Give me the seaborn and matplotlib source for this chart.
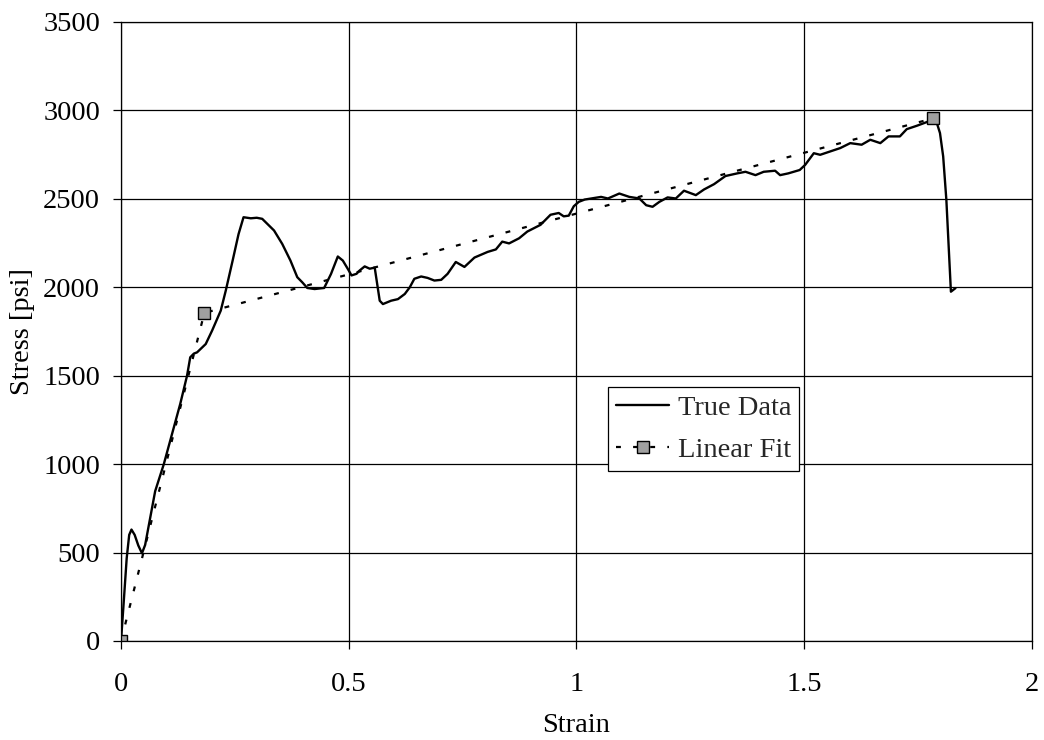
"""Stress-strain curve with linear fit."""

import matplotlib

matplotlib.use("Agg")
import matplotlib.pyplot as plt
import pandas as pd
import seaborn as sns

# true data
strain = [
    0, 0.005, 0.0125, 0.018, 0.023, 0.030, 0.038, 0.046, 0.053, 0.064,
    0.075, 0.094, 0.112, 0.130, 0.145, 0.152, 0.160, 0.167, 0.186, 0.200,
    0.219, 0.230, 0.245, 0.258, 0.269, 0.285, 0.298, 0.310, 0.336, 0.354,
    0.372, 0.387, 0.398, 0.409, 0.425, 0.446, 0.461, 0.476, 0.487, 0.500,
    0.506, 0.517, 0.524, 0.535, 0.546, 0.557, 0.568, 0.575, 0.593, 0.608,
    0.623, 0.634, 0.644, 0.659, 0.673, 0.688, 0.703, 0.717, 0.735, 0.754,
    0.776, 0.805, 0.823, 0.837, 0.852, 0.874, 0.892, 0.921, 0.943, 0.961,
    0.972, 0.983, 0.994, 1.005, 1.018, 1.054, 1.069, 1.094, 1.116, 1.138,
    1.153, 1.167, 1.182, 1.200, 1.218, 1.236, 1.262, 1.280, 1.302, 1.327,
    1.353, 1.371, 1.393, 1.411, 1.436, 1.447, 1.465, 1.490, 1.502, 1.521,
    1.535, 1.557, 1.579, 1.601, 1.626, 1.645, 1.667, 1.685, 1.710, 1.725,
    1.747, 1.769, 1.783, 1.790, 1.798, 1.805, 1.812, 1.822, 1.832,
]
stress = [
    0, 183, 468, 600, 630, 600, 540, 496, 543, 695,
    847, 1000, 1170, 1340, 1500, 1604, 1625, 1632, 1679, 1755,
    1868, 1981, 2150, 2300, 2396, 2390, 2393, 2387, 2321, 2245,
    2151, 2057, 2028, 1996, 1990, 1996, 2075, 2174, 2151, 2095,
    2067, 2076, 2095, 2118, 2105, 2111, 1924, 1905, 1924, 1933,
    1962, 2000, 2048, 2061, 2053, 2038, 2042, 2076, 2143, 2115,
    2168, 2200, 2214, 2258, 2248, 2277, 2315, 2353, 2410, 2420,
    2401, 2405, 2458, 2483, 2496, 2511, 2502, 2530, 2511, 2502,
    2464, 2455, 2483, 2508, 2502, 2546, 2521, 2553, 2583, 2629,
    2644, 2653, 2634, 2653, 2659, 2634, 2644, 2663, 2692, 2758,
    2749, 2768, 2787, 2815, 2806, 2834, 2815, 2853, 2853, 2894,
    2913, 2934, 2951, 2938, 2872, 2740, 2494, 1975, 1995,
]

# linear fit points
fit_strain = [0, 0.183, 1.783]
fit_stress = [0, 1855, 2955]

x_ticks = [0, 0.5, 1, 1.5, 2]
x_labels = ["0", "0.5", "1", "1.5", "2"]
y_ticks = [0, 500, 1000, 1500, 2000, 2500, 3000, 3500]

sns.set_theme(style="white")
plt.rcParams["font.family"] = ["Liberation Serif", "DejaVu Serif"]

data = pd.DataFrame({"Strain": strain, "Stress": stress})
fit = pd.DataFrame({"Strain": fit_strain, "Stress": fit_stress})

fig, ax = plt.subplots(figsize=(10.44, 7.40), dpi=100)
fig.subplots_adjust(left=0.1159, right=0.9885, top=0.9703, bottom=0.1338)

sns.lineplot(data=data, x="Strain", y="Stress", sort=False, estimator=None,
             color="black", linewidth=1.7, label="True Data", ax=ax)
sns.lineplot(data=fit, x="Strain", y="Stress", sort=False, estimator=None,
             color="black", linewidth=1.6, label="Linear Fit", ax=ax,
             marker="s", markersize=8, markerfacecolor="#a0a0a0",
             markeredgecolor="black", markeredgewidth=1.0)
ax.lines[-1].set_dashes((2.2, 5.5))

ax.set_xlim(0, 2)
ax.set_ylim(0, 3500)
ax.set_xticks(x_ticks)
ax.set_xticklabels(x_labels)
ax.set_yticks(y_ticks)
ax.grid(True, color="black", linewidth=0.9)
ax.set_axisbelow(True)
for s in ax.spines.values():
    s.set_color("black")
    s.set_linewidth(0.9)

ax.tick_params(axis="both", direction="out", length=6, width=0.9, color="black",
               labelsize=20.5, labelcolor="black", left=True, bottom=True)
ax.tick_params(axis="x", pad=16)
ax.tick_params(axis="y", pad=9)

ax.set_xlabel("Strain", fontsize=20.5, color="black", labelpad=12)
ax.set_ylabel("Stress [psi]", fontsize=20.5, color="black", labelpad=6)

leg = ax.legend(loc="upper left", bbox_to_anchor=(0.535, 0.41), fontsize=20.5,
                frameon=True, fancybox=False, framealpha=1, edgecolor="black",
                handlelength=1.85, handletextpad=0.3, borderpad=0.28,
                labelspacing=0.55, borderaxespad=0, numpoints=1)
leg.get_frame().set_linewidth(0.9)

plt.savefig("out.png", dpi=100)
